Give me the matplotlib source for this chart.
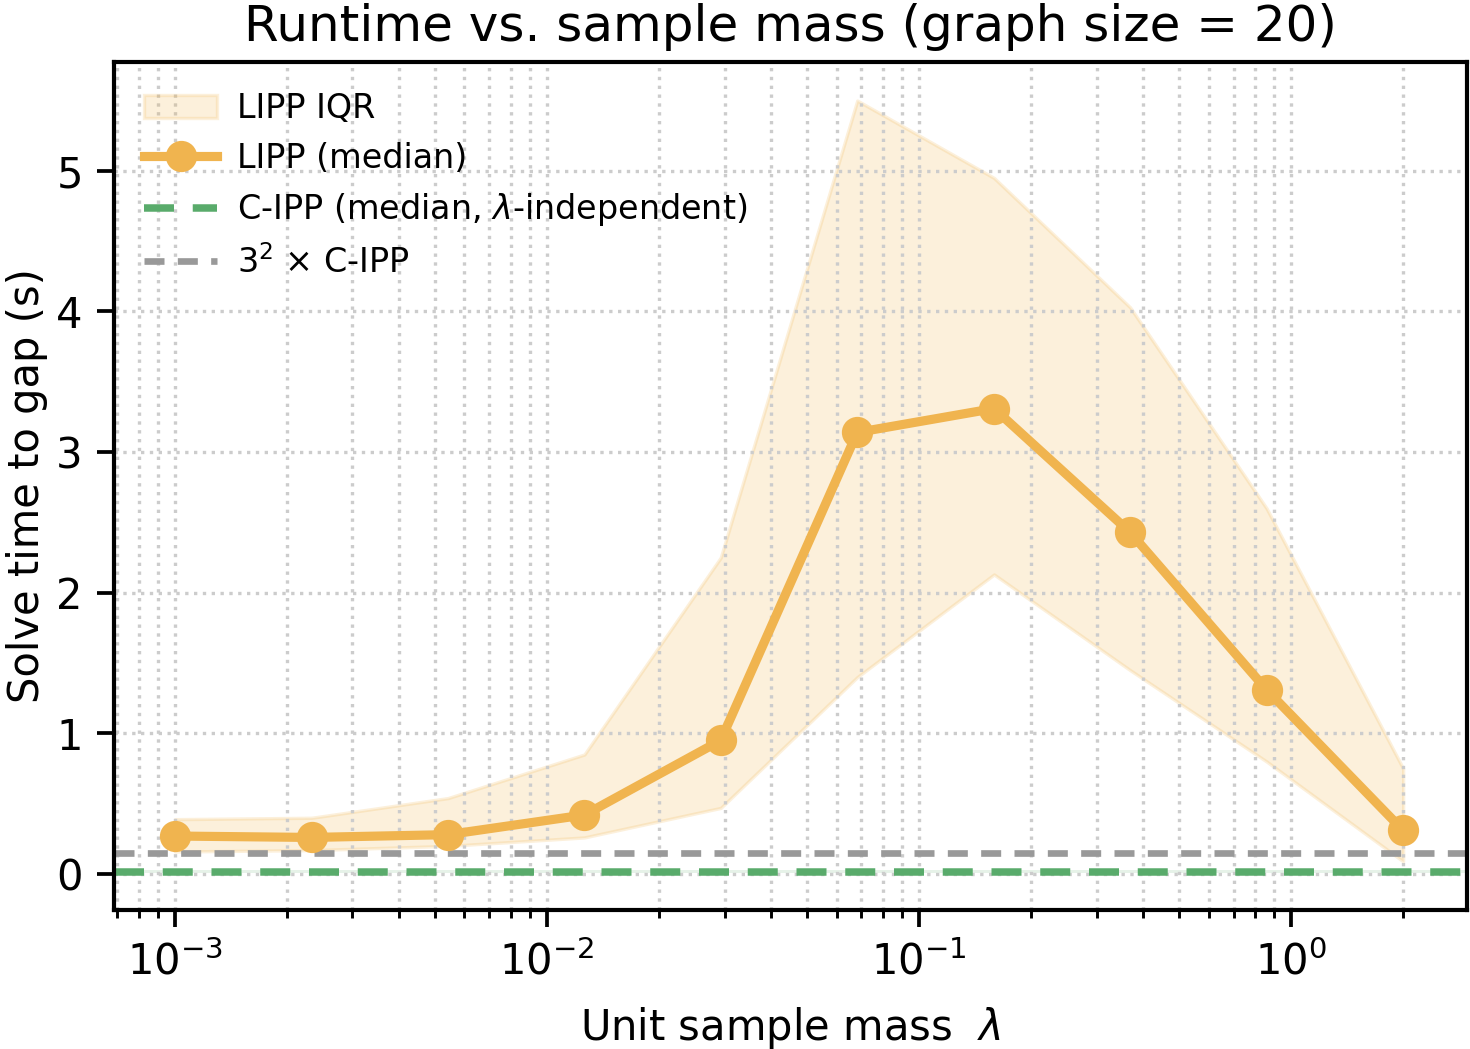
import matplotlib.pyplot as plt

# sample mass values (lambda) and LIPP solve times
mass = [0.001, 0.00233, 0.00542, 0.0126, 0.0293, 0.0682, 0.159, 0.369, 0.859, 2.0]
lipp_median = [0.27, 0.26, 0.28, 0.42, 0.95, 3.14, 3.31, 2.43, 1.31, 0.31]
lipp_q1 = [0.16, 0.17, 0.20, 0.26, 0.47, 1.40, 2.13, 1.45, 0.80, 0.09]
lipp_q3 = [0.39, 0.40, 0.54, 0.85, 2.25, 5.50, 4.95, 4.03, 2.60, 0.75]

cipp_median = 0.0167
cipp_band = (0.008, 0.026)
factor = 9

orange = "#f0b44f"
green = "#59ab6b"
gray = "#999999"

plt.rcParams["font.family"] = "DejaVu Sans"
fig, ax = plt.subplots(figsize=(4.9, 3.4967), dpi=300)
fig.subplots_adjust(left=0.0776, right=0.998, top=0.941, bottom=0.1325)

ax.fill_between(mass, lipp_q1, lipp_q3, color=orange, alpha=0.2,
                linewidth=0.8, label="LIPP IQR")
ax.plot(mass, lipp_median, color=orange, linewidth=2.2, marker="o",
        markersize=6.5, label="LIPP (median)", zorder=4)
ax.axhspan(cipp_band[0], cipp_band[1], color=green, alpha=0.15, linewidth=0)
ax.axhline(cipp_median, color=green, linestyle="--", linewidth=1.8,
           dashes=(4, 2.5), label=r"C-IPP (median, $\lambda$-independent)")
ax.axhline(factor * cipp_median, color=gray, linestyle="--", linewidth=1.6,
           dashes=(3, 2), label=r"$3^2$ $\times$ C-IPP")

ax.set_xscale("log")
ax.set_xlim(6.86e-4, 2.97)
ax.set_ylim(-0.256, 5.775)
ax.set_yticks([0, 1, 2, 3, 4, 5])
ax.grid(True, which="both", axis="x", linestyle=":", color="#cccccc", linewidth=0.8)
ax.grid(True, which="major", axis="y", linestyle=":", color="#cccccc", linewidth=0.8)

ax.tick_params(axis="both", which="major", labelsize=10, width=0.9, length=4)
ax.tick_params(axis="both", which="minor", width=0.7, length=2)
for spine in ax.spines.values():
    spine.set_linewidth(1.0)

ax.set_title("Runtime vs. sample mass (graph size = 20)", fontsize=12, pad=5)
ax.set_xlabel(r"Unit sample mass  $\lambda$", fontsize=10, labelpad=5)
ax.set_ylabel("Solve time to gap (s)", fontsize=10, labelpad=2)

ax.legend(loc="upper left", frameon=False, fontsize=8, handlelength=2.2,
          handletextpad=0.6)

fig.savefig("out.png", dpi=300)
